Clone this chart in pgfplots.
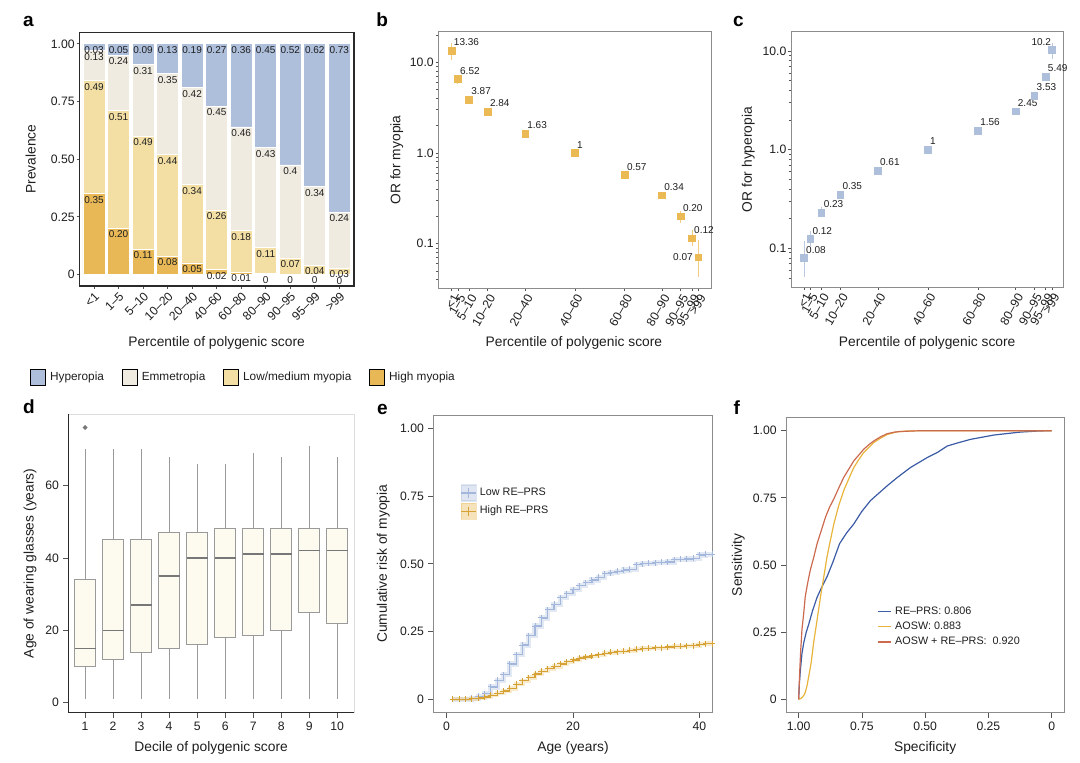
\documentclass[border=0pt]{standalone}
\usepackage{fontspec}
\setmainfont{Liberation Sans}
\usepackage{pgfplots}
\usepackage{pgfplotstable}
\pgfplotsset{compat=1.18}
\usepgfplotslibrary{statistics}

\definecolor{hyp}{HTML}{AEBFDC}
\definecolor{emm}{HTML}{F0EBE0}
\definecolor{lowm}{HTML}{F3DFA4}
\definecolor{highm}{HTML}{E8B857}
\definecolor{sqgold}{HTML}{EBBA55}
\definecolor{frame}{HTML}{2A2A2A}
\definecolor{gframe}{HTML}{8C8C8C}
\definecolor{lframe}{HTML}{DDDDDD}
\definecolor{txt}{HTML}{1E1E1E}
\definecolor{tk}{HTML}{555555}
\definecolor{boxfill}{HTML}{FDFAEF}
\definecolor{boxdraw}{HTML}{9A9A9A}
\definecolor{medgray}{HTML}{777777}
\definecolor{blueline}{HTML}{A3B7DD}
\definecolor{goldline}{HTML}{D6A235}
\definecolor{rocA}{HTML}{3B5BA5}
\definecolor{rocB}{HTML}{E8B43C}
\definecolor{rocC}{HTML}{CC6A50}

\newcommand\tickfont{\fontsize{6.1}{7}\selectfont}
\newcommand\labfont{\fontsize{6.9}{8}\selectfont}
\newcommand\annfont{\fontsize{5}{6}\selectfont}

\pgfplotsset{
  base/.style={scale only axis, anchor=north west, clip=false,
    tick label style={font=\tickfont, text=txt},
    label style={font=\labfont, text=txt},
    /pgf/number format/assume math mode=true,
    tick align=outside, major tick length=1.4pt, minor tick length=1.1pt,
    every tick/.append style={draw=tk, line width=0.4pt},
    xtick pos=bottom, ytick pos=left,
    x tick label style={inner sep=0.7pt},
    y tick label style={inner sep=0.7pt},
  },
  base2/.style={base, major tick length=2.5pt,
    x tick label style={inner sep=2pt},
    y tick label style={inner sep=2pt}},
  sqlegend/.style={legend image code/.code={\fill[##1] (0pt,-4pt) rectangle (7.5pt,4pt);}},
  dbox/.style={draw=boxdraw, fill=boxfill, line width=0.5pt, solid,
    mark=*, mark size=0.9pt, mark options={fill=medgray, draw=medgray},
    boxplot/every median/.style={draw=medgray, line width=0.8pt},
    boxplot/every whisker/.style={draw=boxdraw, line width=0.5pt},
    boxplot/every box/.style={draw=boxdraw, fill=boxfill, line width=0.5pt}},
  alabels/.style={only marks, mark=*, mark size=0pt, mark options={draw=none, fill=none},
    nodes near coords, point meta=explicit symbolic,
    every node near coord/.append style={anchor=north, font=\annfont, text=txt, inner sep=0.8pt, yshift=-0.3pt}},
}

% ---------------- data ----------------
\pgfplotstableread{
x high low emm hyp hl ll el yl
1 0.35 0.49 0.13 0.03 0.35 0.49 0.13 0.03
2 0.20 0.51 0.24 0.05 0.20 0.51 0.24 0.05
3 0.11 0.49 0.31 0.09 0.11 0.49 0.31 0.09
4 0.08 0.44 0.35 0.13 0.08 0.44 0.35 0.13
5 0.05 0.34 0.42 0.19 0.05 0.34 0.42 0.19
6 0.02 0.26 0.45 0.27 0.02 0.26 0.45 0.27
7 0.01 0.18 0.45 0.36 0.01 0.18 0.46 0.36
8 0.004 0.113 0.433 0.45 0 0.11 0.43 0.45
9 0.002 0.07 0.403 0.525 0 0.07 0.4 0.52
10 0.001 0.039 0.34 0.62 0 0.04 0.34 0.62
11 0 0.027 0.243 0.73 0 0.03 0.24 0.73
}\dataA

\pgfplotstableread{
x y ep em lab
0.5 13.36 3.1 2.8 13.36
3 6.52 0.8 0.7 6.52
7.5 3.87 0.35 0.3 3.87
15 2.84 0.2 0.18 2.84
30 1.63 0.08 0.08 1.63
50 1 0 0 1
70 0.57 0.03 0.03 0.57
85 0.34 0.025 0.025 0.34
92.5 0.20 0.03 0.029 0.20
97 0.115 0.027 0.021 0.12
}\dataB
\pgfplotstableread{
x y ep em lab
99.5 0.071 0.039 0.028 0.07
}\dataBb

\pgfplotstableread{
x y ep em lab
0.5 0.08 0.04 0.029 0.08
3 0.124 0.025 0.018 0.12
7.5 0.23 0.034 0.024 0.23
15 0.35 0.02 0.02 0.35
30 0.61 0.03 0.03 0.61
50 1 0 0 1
70 1.56 0.07 0.07 1.56
85 2.45 0.12 0.12 2.45
92.5 3.53 0.2 0.2 3.53
97 5.49 0.4 0.4 5.49
}\dataC
\pgfplotstableread{
x y ep em lab
99.5 10.2 1.9 1.9 10.2
}\dataCc

\pgfplotstableread{
age low high
1 0 0
2 0 0
3 0 0
4 0.003 0.001
5 0.01 0.004
6 0.02 0.008
7 0.045 0.015
8 0.07 0.022
9 0.09 0.03
10 0.13 0.04
11 0.165 0.055
12 0.20 0.068
13 0.235 0.08
14 0.27 0.093
15 0.30 0.103
16 0.33 0.113
17 0.35 0.121
18 0.375 0.13
19 0.39 0.138
20 0.405 0.145
21 0.42 0.152
22 0.43 0.156
23 0.44 0.16
24 0.45 0.164
25 0.463 0.17
26 0.468 0.173
27 0.472 0.175
28 0.477 0.177
29 0.48 0.18
30 0.497 0.185
31 0.5 0.187
32 0.502 0.188
33 0.504 0.19
34 0.505 0.19
35 0.507 0.193
36 0.515 0.195
37 0.517 0.196
38 0.518 0.197
39 0.52 0.198
40 0.533 0.203
41 0.535 0.205
42 0.535 0.205
}\dataE

\begin{document}
\begin{tikzpicture}
\path[use as bounding box] (0,0) rectangle (540pt,-381.5pt);

\node[anchor=base west, font=\bfseries\fontsize{9.5}{10}\selectfont, inner sep=0] at (11.35pt,-13.35pt) {a};
\node[anchor=base west, font=\bfseries\fontsize{9.5}{10}\selectfont, inner sep=0] at (188pt,-13.35pt) {b};
\node[anchor=base west, font=\bfseries\fontsize{9.5}{10}\selectfont, inner sep=0] at (366.35pt,-13.35pt) {c};
\node[anchor=base west, font=\bfseries\fontsize{9.5}{10}\selectfont, inner sep=0] at (11.35pt,-207pt) {d};
\node[anchor=base west, font=\bfseries\fontsize{9.5}{10}\selectfont, inner sep=0] at (188.35pt,-207.5pt) {e};
\node[anchor=base west, font=\bfseries\fontsize{9.5}{10}\selectfont, inner sep=0] at (366.65pt,-207.5pt) {f};

% ---------------- panel a ----------------
\begin{axis}[base, at={(39.65pt,-16.15pt)}, width=137.35pt, height=126.85pt,
  axis line style={draw=frame, line width=0.6pt},
  ybar stacked, bar width=0.9,
  ymin=-0.05, ymax=1.05, xmin=0.4, xmax=11.6,
  xtick={1,...,11},
  xticklabels={{<1},{1–5},{5–10},{10–20},{20–40},{40–60},{60–80},{80–90},{90–95},{95–99},{>99}},
  x tick label style={rotate=45, anchor=north east},
  ytick={0,0.25,0.5,0.75,1}, yticklabels={0,0.25,0.50,0.75,1.00},
  xlabel={Percentile of polygenic score}, ylabel={Prevalence},
  xlabel style={at={(axis description cs:0.5,-0.226)}, anchor=center},
  ylabel style={at={(axis description cs:-0.177,0.5)}, anchor=center},
  legend columns=4,
  legend style={at={(-0.1795,-0.36)}, anchor=west, draw=none, fill=none, inner sep=0pt,
    font=\fontsize{5.9}{7}\selectfont, text=txt,
    /tikz/every even column/.append style={column sep=7pt}},
  legend cell align=left,
]
\addlegendimage{sqlegend, fill=hyp}\addlegendentry{Hyperopia}
\addlegendimage{sqlegend, fill=emm}\addlegendentry{Emmetropia}
\addlegendimage{sqlegend, fill=lowm}\addlegendentry{Low/medium myopia}
\addlegendimage{sqlegend, fill=highm}\addlegendentry{High myopia}
\addplot[fill=highm, draw=white, line width=0.35pt] table[x=x, y=high] {\dataA};
\addplot[fill=lowm, draw=white, line width=0.35pt] table[x=x, y=low] {\dataA};
\addplot[fill=emm, draw=white, line width=0.35pt] table[x=x, y=emm] {\dataA};
\addplot[fill=hyp, draw=white, line width=0.35pt] table[x=x, y=hyp] {\dataA};
\end{axis}
% labels of panel a, at the top of each segment
\begin{axis}[scale only axis, anchor=north west, clip=false, hide axis,
  at={(39.65pt,-16.15pt)}, width=137.35pt, height=126.85pt,
  ymin=-0.05, ymax=1.05, xmin=0.4, xmax=11.6]
\addplot[alabels] table[x=x, y expr=\thisrow{high}, meta=hl] {\dataA};
\addplot[alabels] table[x=x, y expr=\thisrow{high}+\thisrow{low}, meta=ll] {\dataA};
\addplot[alabels] table[x=x, y expr=\thisrow{high}+\thisrow{low}+\thisrow{emm}, meta=el] {\dataA};
\addplot[alabels] table[x=x, y expr=\thisrow{high}+\thisrow{low}+\thisrow{emm}+\thisrow{hyp}, meta=yl] {\dataA};
\end{axis}

% ---------------- panel b ----------------
\begin{axis}[base, at={(219.15pt,-15.85pt)}, width=136.7pt, height=128.3pt,
  axis line style={draw=gframe, line width=0.4pt},
  ymode=log, ymin=0.0323, ymax=21.7, xmin=-4.9, xmax=104.9,
  xtick={0.5,3,7.5,15,30,50,70,85,92.5,97,99.5},
  xticklabels={{<1},{1–5},{5–10},{10–20},{20–40},{40–60},{60–80},{80–90},{90–95},{95–99},{>99}},
  x tick label style={rotate=60, anchor=north east},
  ytick={0.1,1,10}, yticklabels={0.1,1.0,10.0},
  minor ytick={0.04,0.05,0.06,0.07,0.08,0.09,0.2,0.3,0.4,0.5,0.6,0.7,0.8,0.9,2,3,4,5,6,7,8,9,20},
  xlabel={Percentile of polygenic score}, ylabel={OR for myopia},
  xlabel style={at={(axis description cs:0.496,-0.213)}, anchor=center},
  ylabel style={at={(axis description cs:-0.152,0.5)}, anchor=center},
]
\addplot[only marks, mark=square*, mark size=1.65pt, color=sqgold,
  nodes near coords, point meta=explicit symbolic,
  every node near coord/.append style={anchor=south west, font=\annfont, text=txt, inner sep=0pt, xshift=0.9pt, yshift=2.2pt},
  error bars/.cd, y dir=both, y explicit, error mark=none,
  error bar style={color=sqgold!75, line width=0.5pt}]
  table[x=x, y=y, y error plus=ep, y error minus=em, meta=lab] {\dataB};
\addplot[only marks, mark=square*, mark size=1.65pt, color=sqgold,
  nodes near coords, point meta=explicit symbolic,
  every node near coord/.append style={anchor=east, font=\annfont, text=txt, inner sep=0pt, xshift=-2.6pt},
  error bars/.cd, y dir=both, y explicit, error mark=none,
  error bar style={color=sqgold!75, line width=0.5pt}]
  table[x=x, y=y, y error plus=ep, y error minus=em, meta=lab] {\dataBb};
\end{axis}

% ---------------- panel c ----------------
\begin{axis}[base, at={(395.5pt,-15.85pt)}, width=136.15pt, height=127.8pt,
  axis line style={draw=gframe, line width=0.4pt},
  ymode=log, ymin=0.0403, ymax=15.7, xmin=-4.7, xmax=104,
  xtick={0.5,3,7.5,15,30,50,70,85,92.5,97,99.5},
  xticklabels={{<1},{1–5},{5–10},{10–20},{20–40},{40–60},{60–80},{80–90},{90–95},{95–99},{>99}},
  x tick label style={rotate=60, anchor=north east},
  ytick={0.1,1,10}, yticklabels={0.1,1.0,10.0},
  minor ytick={0.05,0.06,0.07,0.08,0.09,0.2,0.3,0.4,0.5,0.6,0.7,0.8,0.9,2,3,4,5,6,7,8,9},
  xlabel={Percentile of polygenic score}, ylabel={OR for hyperopia},
  xlabel style={at={(axis description cs:0.5,-0.219)}, anchor=center},
  ylabel style={at={(axis description cs:-0.157,0.5)}, anchor=center},
]
\addplot[only marks, mark=square*, mark size=1.65pt, color=hyp,
  nodes near coords, point meta=explicit symbolic,
  every node near coord/.append style={anchor=south west, font=\annfont, text=txt, inner sep=0pt, xshift=0.9pt, yshift=2.2pt},
  error bars/.cd, y dir=both, y explicit, error mark=none,
  error bar style={color=hyp!85, line width=0.5pt}]
  table[x=x, y=y, y error plus=ep, y error minus=em, meta=lab] {\dataC};
\addplot[only marks, mark=square*, mark size=1.65pt, color=hyp,
  nodes near coords, point meta=explicit symbolic,
  every node near coord/.append style={anchor=south east, font=\annfont, text=txt, inner sep=0pt, xshift=-0.3pt, yshift=2.2pt},
  error bars/.cd, y dir=both, y explicit, error mark=none,
  error bar style={color=hyp!85, line width=0.5pt}]
  table[x=x, y=y, y error plus=ep, y error minus=em, meta=lab] {\dataCc};
\end{axis}

% ---------------- panel d ----------------
\begin{axis}[base2, at={(34.15pt,-207pt)}, width=142.85pt, height=149.35pt,
  axis line style={draw=lframe, line width=0.4pt},
  xmin=0.4, xmax=10.6, ymin=-2.75, ymax=79.75,
  xtick={1,...,10}, ytick={0,20,40,60},
  boxplot/draw direction=y,
  boxplot/box extend=0.75, boxplot/whisker extend=0,
  xlabel={Decile of polygenic score}, ylabel={Age of wearing glasses (years)},
  xlabel style={at={(axis description cs:0.5,-0.119)}, anchor=center},
  ylabel style={at={(axis description cs:-0.134,0.5)}, anchor=center},
  after end axis/.code={\draw[frame, line width=0.6pt] (rel axis cs:0,1) -- (rel axis cs:0,0) -- (rel axis cs:1,0);},
]
\addplot[dbox, boxplot prepared={lower whisker=1, lower quartile=10, median=15, upper quartile=34, upper whisker=70, draw position=1}] table[row sep=\\, y index=0] {76\\};
\addplot[dbox, boxplot prepared={lower whisker=1, lower quartile=12, median=20, upper quartile=45, upper whisker=70, draw position=2}] coordinates {};
\addplot[dbox, boxplot prepared={lower whisker=1, lower quartile=14, median=27, upper quartile=45, upper whisker=70, draw position=3}] coordinates {};
\addplot[dbox, boxplot prepared={lower whisker=1, lower quartile=15, median=35, upper quartile=47, upper whisker=68, draw position=4}] coordinates {};
\addplot[dbox, boxplot prepared={lower whisker=1, lower quartile=16, median=40, upper quartile=47, upper whisker=66, draw position=5}] coordinates {};
\addplot[dbox, boxplot prepared={lower whisker=1, lower quartile=18, median=40, upper quartile=48, upper whisker=66, draw position=6}] coordinates {};
\addplot[dbox, boxplot prepared={lower whisker=1, lower quartile=18.7, median=41, upper quartile=48, upper whisker=69, draw position=7}] coordinates {};
\addplot[dbox, boxplot prepared={lower whisker=1, lower quartile=20, median=41, upper quartile=48, upper whisker=68, draw position=8}] coordinates {};
\addplot[dbox, boxplot prepared={lower whisker=1, lower quartile=25, median=42, upper quartile=48, upper whisker=71, draw position=9}] coordinates {};
\addplot[dbox, boxplot prepared={lower whisker=1, lower quartile=22, median=42, upper quartile=48, upper whisker=68, draw position=10}] coordinates {};
\end{axis}

% ---------------- panel e ----------------
\begin{axis}[base2, at={(216.65pt,-207.5pt)}, width=139.7pt, height=148.85pt,
  axis line style={draw=gframe, line width=0.4pt},
  xmin=-2.1, xmax=42.1, ymin=-0.05, ymax=1.05,
  xtick={0,20,40}, ytick={0,0.25,0.5,0.75,1}, yticklabels={0,0.25,0.50,0.75,1.00},
  xlabel={Age (years)}, ylabel={Cumulative risk of myopia},
  xlabel style={at={(axis description cs:0.5,-0.119)}, anchor=center},
  ylabel style={at={(axis description cs:-0.179,0.5)}, anchor=center},
  legend style={at={(0.096,0.768)}, anchor=north west, draw=none, fill=none, inner sep=0pt,
    font=\fontsize{5.4}{6.5}\selectfont, text=txt, row sep=0.5pt,
    nodes={inner ysep=0.4pt, inner xsep=1.6pt}},
  legend cell align=left,
]
\addplot[const plot, color=hyp, line width=2.6pt, opacity=0.35, forget plot] table[x=age, y=low] {\dataE};
\addplot[const plot, color=highm, line width=2.2pt, opacity=0.3, forget plot] table[x=age, y=high] {\dataE};
\addplot[const plot, color=blueline, line width=0.6pt, mark=+, mark size=1.5pt, mark options={line width=0.5pt},
  legend image code/.code={\fill[hyp, opacity=0.4] (0pt,-4pt) rectangle (7.5pt,4pt);
    \draw[blueline, line width=0.6pt] (0pt,0pt) -- (7.5pt,0pt) (3.75pt,-2.3pt) -- (3.75pt,2.3pt);}]
  table[x=age, y=low] {\dataE};
\addlegendentry{Low RE–PRS}
\addplot[const plot, color=goldline, line width=0.6pt, mark=+, mark size=1.5pt, mark options={line width=0.5pt},
  legend image code/.code={\fill[highm, opacity=0.4] (0pt,-4pt) rectangle (7.5pt,4pt);
    \draw[goldline, line width=0.6pt] (0pt,0pt) -- (7.5pt,0pt) (3.75pt,-2.3pt) -- (3.75pt,2.3pt);}]
  table[x=age, y=high] {\dataE};
\addlegendentry{High RE–PRS}
\end{axis}

% ---------------- panel f ----------------
\begin{axis}[base2, at={(393pt,-208.65pt)}, width=139.15pt, height=147.7pt,
  axis line style={draw=gframe, line width=0.4pt},
  x dir=reverse, xmin=-0.05, xmax=1.05, ymin=-0.05, ymax=1.05,
  xtick={0,0.25,0.5,0.75,1}, xticklabels={0,0.25,0.50,0.75,1.00},
  ytick={0,0.25,0.5,0.75,1}, yticklabels={0,0.25,0.50,0.75,1.00},
  xlabel={Specificity}, ylabel={Sensitivity},
  xlabel style={at={(axis description cs:0.5,-0.119)}, anchor=center},
  ylabel style={at={(axis description cs:-0.171,0.5)}, anchor=center},
  legend style={at={(0.327,0.366)}, anchor=north west, draw=none, fill=none, inner sep=0pt,
    font=\fontsize{5.4}{6.5}\selectfont, text=txt, row sep=1.5pt,
    nodes={inner ysep=0.3pt, inner xsep=1.6pt, text height=4.3pt, text depth=1.3pt}},
  legend cell align=left,
]
\addplot[color=rocA, line width=0.6pt,
  legend image code/.code={\draw[rocA, line width=0.6pt] (0pt,0pt) -- (6.7pt,0pt);}] coordinates {
(1,0) (0.997,0.06) (0.993,0.11) (0.987,0.17) (0.98,0.21) (0.97,0.25) (0.96,0.28) (0.945,0.33)
(0.927,0.38) (0.91,0.415) (0.888,0.456) (0.865,0.51) (0.838,0.58) (0.81,0.62) (0.782,0.653)
(0.75,0.70) (0.716,0.74) (0.68,0.77) (0.65,0.795) (0.61,0.826) (0.558,0.863) (0.492,0.9)
(0.45,0.92) (0.413,0.943) (0.37,0.955) (0.32,0.968) (0.228,0.984) (0.123,0.995) (0.05,0.999) (0,1)};
\addlegendentry{RE–PRS: 0.806}
\addplot[color=rocB, line width=0.6pt,
  legend image code/.code={\draw[rocB, line width=0.6pt] (0pt,0pt) -- (6.7pt,0pt);}] coordinates {
(1,0) (0.993,0.002) (0.987,0.006) (0.98,0.014) (0.974,0.025) (0.967,0.05) (0.96,0.086) (0.95,0.14)
(0.941,0.21) (0.928,0.29) (0.914,0.38) (0.9,0.46) (0.888,0.53) (0.875,0.59) (0.861,0.653)
(0.842,0.72) (0.822,0.777) (0.8,0.825) (0.782,0.863) (0.762,0.893) (0.743,0.919) (0.72,0.94)
(0.703,0.956) (0.675,0.973) (0.65,0.986) (0.611,0.996) (0.571,0.999) (0.5,1) (0,1)};
\addlegendentry{AOSW: 0.883}
\addplot[color=rocC, line width=0.6pt,
  legend image code/.code={\draw[rocC, line width=0.6pt] (0pt,0pt) -- (6.7pt,0pt);}] coordinates {
(1,0) (0.998,0.05) (0.996,0.099) (0.992,0.18) (0.987,0.259) (0.98,0.32) (0.974,0.382) (0.964,0.435)
(0.954,0.481) (0.94,0.53) (0.927,0.58) (0.91,0.63) (0.894,0.678) (0.878,0.715) (0.861,0.746)
(0.84,0.79) (0.822,0.826) (0.8,0.86) (0.782,0.888) (0.76,0.912) (0.743,0.931) (0.72,0.95)
(0.703,0.962) (0.675,0.978) (0.65,0.989) (0.62,0.995) (0.598,0.997) (0.55,0.999) (0.518,1) (0,1)};
\addlegendentry{AOSW + RE–PRS:\ \ 0.920}
\end{axis}
\end{tikzpicture}
\end{document}
